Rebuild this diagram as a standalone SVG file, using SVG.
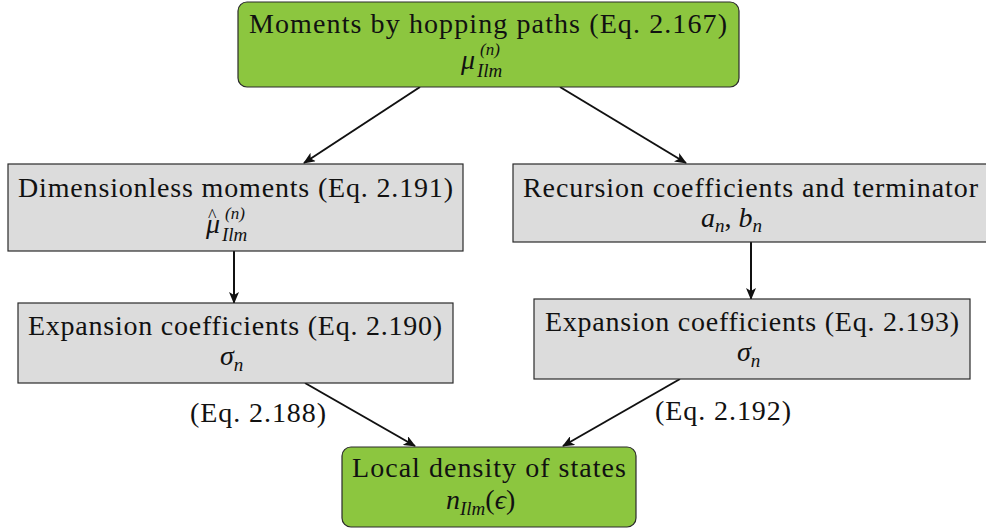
<svg xmlns="http://www.w3.org/2000/svg" width="986" height="532" viewBox="0 0 986 532">
  <style>
    .txt { font-family: "Liberation Serif", "Times New Roman", serif; font-size: 28px; fill: #111; }
    .math { font-family: "Liberation Serif", "Times New Roman", serif; font-style: italic; fill: #111; }
    .green { fill: #8cc63f; stroke: #2a2a2a; stroke-width: 1.2; }
    .gray { fill: #dcdcdc; stroke: #2a2a2a; stroke-width: 1.2; }
    .edge { stroke: #111; stroke-width: 2; fill: none; marker-end: url(#arrow); }
  </style>
  <defs>
    <marker id="arrow" viewBox="0 0 12 10" refX="11" refY="5" markerWidth="12" markerHeight="10" markerUnits="userSpaceOnUse" orient="auto">
      <path d="M0,0 L12,5 L0,10 L3,5 Z" fill="#111"/>
    </marker>
  </defs>

  <g id="connectors">
    <line class="edge" x1="420" y1="87" x2="304" y2="163"/>
    <line class="edge" x1="560" y1="87" x2="686" y2="163"/>
    <line class="edge" x1="234" y1="251" x2="234" y2="303"/>
    <line class="edge" x1="751" y1="242" x2="751" y2="299"/>
    <line class="edge" x1="305" y1="383" x2="415" y2="446"/>
    <line class="edge" x1="680" y1="379" x2="563" y2="446"/>
    <text class="txt" x="190" y="422" textLength="136" lengthAdjust="spacing">(Eq. 2.188)</text>
    <text class="txt" x="655" y="420" textLength="136" lengthAdjust="spacing">(Eq. 2.192)</text>
  </g>

  <g id="node-moments">
    <rect class="green" x="238" y="2" width="501" height="85" rx="9"/>
    <text class="txt" x="249" y="33" textLength="478" lengthAdjust="spacing">Moments by hopping paths (Eq. 2.167)</text>
    <text class="math" x="461" y="69" font-size="28">μ</text>
    <text class="math" x="480" y="55" font-size="17">(n)</text>
    <text class="math" x="477" y="77" font-size="19">Ilm</text>
  </g>

  <g id="node-dimensionless">
    <rect class="gray" x="8" y="164" width="455" height="87"/>
    <text class="txt" x="18" y="197" textLength="435" lengthAdjust="spacing">Dimensionless moments (Eq. 2.191)</text>
    <!-- mu with a hat accent set over it -->
    <text class="math" x="206" y="233" font-size="28">μ<tspan dx="-12" dy="-11" font-size="18" font-style="normal">^</tspan></text>
    <text class="math" x="225" y="219" font-size="17">(n)</text>
    <text class="math" x="222" y="241" font-size="19">Ilm</text>
  </g>

  <g id="node-recursion">
    <rect class="gray" x="513" y="164" width="480" height="78"/>
    <text class="txt" x="523" y="197" textLength="455" lengthAdjust="spacing">Recursion coefficients and terminator</text>
    <text class="math" x="701" y="227" font-size="28">a<tspan font-size="19" dy="5">n</tspan><tspan font-style="normal" dy="-5">, </tspan>b<tspan font-size="19" dy="5">n</tspan></text>
  </g>

  <g id="node-expansion-left">
    <rect class="gray" x="18" y="303" width="435" height="80"/>
    <text class="txt" x="28" y="335" textLength="414" lengthAdjust="spacing">Expansion coefficients (Eq. 2.190)</text>
    <text class="math" x="220" y="365" font-size="28">σ<tspan font-size="19" dy="6">n</tspan></text>
  </g>

  <g id="node-expansion-right">
    <rect class="gray" x="534" y="299" width="436" height="80"/>
    <text class="txt" x="545" y="331" textLength="414" lengthAdjust="spacing">Expansion coefficients (Eq. 2.193)</text>
    <text class="math" x="737" y="361" font-size="28">σ<tspan font-size="19" dy="6">n</tspan></text>
  </g>

  <g id="node-ldos">
    <rect class="green" x="342" y="447" width="294" height="80" rx="9"/>
    <text class="txt" x="352" y="477" textLength="274" lengthAdjust="spacing">Local density of states</text>
    <text class="math" x="446" y="509" font-size="28">n<tspan font-size="19" dy="6">Ilm</tspan><tspan font-style="normal" dy="-6">(</tspan>ϵ<tspan font-style="normal">)</tspan></text>
  </g>
</svg>
